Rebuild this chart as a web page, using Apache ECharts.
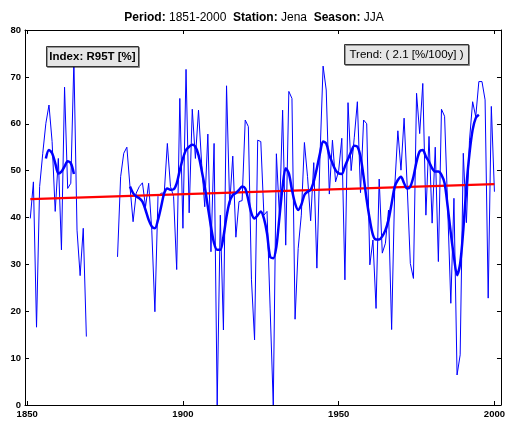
<!DOCTYPE html>
<html>
<head>
<meta charset="utf-8">
<script src="https://cdn.jsdelivr.net/npm/echarts@6/dist/echarts.min.js"></script>
<style>html,body{margin:0;padding:0;background:#fff}#c{width:508px;height:425px}</style>
</head>
<body>
<div id="c"></div>
<script>
// ---- data ----
var startYear = 1851;
var r95t = [
39.8,47.6,16.6,46.6,53.7,60.1,64.0,56.2,41.3,52.6, // 1851-1860
33.1,67.8,46.2,47.3,73.5,37.3,27.6,37.7,14.6,null, // 1861-1870
null,null,null,null,null,null,null,null,31.6,48.7, // 1871-1880
53.7,55.0,46.6,39.1,45.2,46.6,47.4,42.3,47.3,37.3, // 1881-1890
19.9,44.5,45.2,45.2,55.8,46.6,44.5,28.9,65.4,37.7, // 1891-1900
71.6,41.0,63.1,52.6,62.9,51.6,42.3,57.8,32.7,55.8, // 1901-1910
0.0,40.5,16.0,68.1,42.7,53.1,35.8,43.4,43.6,60.8,  // 1911-1920
59.4,26.7,13.9,56.5,56.2,40.5,41.3,20.5,0.0,53.6,  // 1921-1930
40.2,62.9,34.1,66.9,65.4,18.3,33.4,40.5,56.0,48.7, // 1931-1940
39.3,51.7,29.2,53.0,72.3,67.2,45.0,56.5,47.6,50.0, // 1941-1950
56.9,26.7,64.5,50.0,57.0,64.7,45.3,60.8,60.0,29.9, // 1951-1960
35.2,20.6,48.2,32.4,34.5,41.6,16.1,46.6,58.5,50.1, // 1961-1970
61.2,46.6,30.2,27.0,66.5,57.9,68.6,40.5,57.3,38.8, // 1971-1980
55.0,30.6,63.1,61.6,42.0,21.7,44.1,6.4,10.7,53.7,  // 1981-1990
38.9,56.5,64.7,61.5,69.0,69.0,65.1,22.8,63.7,45.5  // 1991-2000
];
var smoothStart1 = 1856;
var smooth1 = [52.6,54.4,53.7,51.6,49.4,49.8,50.9,52.0,51.6,49.3];
var smoothStart2 = 1883;
var smooth2 = [
46.6,45.2,44.5,44.1,43.4,41.6,39.5,38.1,37.7,39.5, // 1883-1892
42.3,45.2,46.2,45.9,46.0,47.3,50.1,52.6,54.4,55.1, // 1893-1902
55.5,55.1,53.3,50.1,46.6,42.3,38.1,34.5,33.1,33.1, // 1903-1912
35.9,40.2,43.4,44.8,45.2,45.9,46.6,46.2,43.7,40.9, // 1913-1922
39.8,40.5,41.3,39.8,36.6,31.6,31.3,33.8,40.2,46.6, // 1923-1932
50.5,49.4,45.9,43.0,41.6,42.7,44.8,45.5,45.9,47.7, // 1933-1942
50.5,53.7,56.2,55.8,53.3,51.6,50.1,49.4,49.3,50.9, // 1943-1952
52.5,54.0,55.3,55.1,53.0,48.7,43.7,39.5,36.3,35.3, // 1953-1962
35.3,36.0,37.3,39.5,43.0,46.6,48.0,48.7,47.3,46.2, // 1963-1972
46.6,48.7,51.9,54.1,54.4,53.0,51.9,50.5,49.8,49.8, // 1973-1982
49.1,47.3,42.3,36.6,31.6,27.7,30.2,37.3,46.6,53.7, // 1983-1992
58.7,61.2,61.9                                     // 1993-1995
];
var trendYears = [1851, 2000];
var trendValues = [43.9, 47.1];
var xTicks = [1850, 1900, 1950, 2000];
var titleParts = {period: '1851-2000', station: 'Jena', season: 'JJA'};
var indexLabel = 'Index: R95T [%]';
var trendLabel = 'Trend: ( 2.1 [%/100y] )';

// ---- build ----
function pairs(start, arr) {
  return arr.map(function (v, i) { return [start + i, v === null ? '-' : v]; });
}
var rawData = pairs(startYear, r95t);
var sm1 = pairs(smoothStart1, smooth1);
var sm2 = pairs(smoothStart2, smooth2);
var trendData = trendYears.map(function (y, i) { return [y, trendValues[i]]; });

var FONT = 'Liberation Sans, Arial, sans-serif';
var chart = echarts.init(document.getElementById('c'), null, {renderer: 'canvas'});
var xCommon = {
  type: 'value', min: 1849.3, max: 2002.1,
  splitLine: {show: false},
  axisLine: {show: true, onZero: false, lineStyle: {color: '#000', width: 1}},
  axisTick: {show: true, inside: true, length: 4, customValues: xTicks, lineStyle: {color: '#000'}}
};
var yCommon = {
  type: 'value', min: 0, max: 80, interval: 10,
  splitLine: {show: false},
  axisLine: {show: true, onZero: false, lineStyle: {color: '#000', width: 1}},
  axisTick: {show: true, inside: true, length: 4, lineStyle: {color: '#000'}}
};
chart.setOption({
  animation: false,
  backgroundColor: '#fff',
  title: {
    text: '{b|Period:}{n| ' + titleParts.period + '  }{b|Station:}{n| ' + titleParts.station + '  }{b|Season:}{n| ' + titleParts.season + '}',
    left: 'center', top: 7,
    textStyle: {
      rich: {
        b: {fontFamily: FONT, fontSize: 12, fontWeight: 'bold', color: '#000'},
        n: {fontFamily: FONT, fontSize: 12, fontWeight: 'normal', color: '#000'}
      }
    }
  },
  grid: {left: 25, right: 6, top: 30, bottom: 20, containLabel: false},
  xAxis: [
    Object.assign({}, xCommon, {
      position: 'bottom',
      axisLabel: {show: true, customValues: xTicks, formatter: function (v) { return String(Math.round(v)); },
        color: '#000', fontFamily: FONT, fontSize: 9.5, fontWeight: 'bold', margin: 4}
    }),
    Object.assign({}, xCommon, {position: 'top', axisLabel: {show: false}})
  ],
  yAxis: [
    Object.assign({}, yCommon, {
      position: 'left',
      axisLabel: {show: true, color: '#000', fontFamily: FONT, fontSize: 9.5, fontWeight: 'bold', margin: 4}
    }),
    Object.assign({}, yCommon, {position: 'right', axisLabel: {show: false}})
  ],
  series: [
    {type: 'line', data: rawData, showSymbol: false, connectNulls: false,
     lineStyle: {color: '#0000ff', width: 1}, silent: true, z: 2},
    {type: 'line', data: trendData, showSymbol: false,
     lineStyle: {color: '#ff0000', width: 2.2}, silent: true, z: 3},
    {type: 'line', data: sm1, showSymbol: false, smooth: 0.3,
     lineStyle: {color: '#0000ff', width: 2.5}, silent: true, z: 4},
    {type: 'line', data: sm2, showSymbol: false, smooth: 0.3,
     lineStyle: {color: '#0000ff', width: 2.5}, silent: true, z: 4}
  ],
  graphic: [
    {type: 'rect', shape: {x: 46.5, y: 46.5, width: 92, height: 20},
     style: {fill: '#e6e6e6', stroke: '#333', lineWidth: 1, shadowColor: 'rgba(0,0,0,0.35)', shadowOffsetX: 1, shadowOffsetY: 1}, z: 10},
    {type: 'text', x: 92.5, y: 57, style: {text: indexLabel, font: 'bold 11.5px ' + FONT, fill: '#000', align: 'center', verticalAlign: 'middle'}, z: 11},
    {type: 'rect', shape: {x: 344.5, y: 44.5, width: 124, height: 20},
     style: {fill: '#e6e6e6', stroke: '#333', lineWidth: 1, shadowColor: 'rgba(0,0,0,0.35)', shadowOffsetX: 1, shadowOffsetY: 1}, z: 10},
    {type: 'text', x: 406.5, y: 55, style: {text: trendLabel, font: '11.5px ' + FONT, fill: '#000', align: 'center', verticalAlign: 'middle'}, z: 11}
  ]
});
</script>
</body>
</html>
